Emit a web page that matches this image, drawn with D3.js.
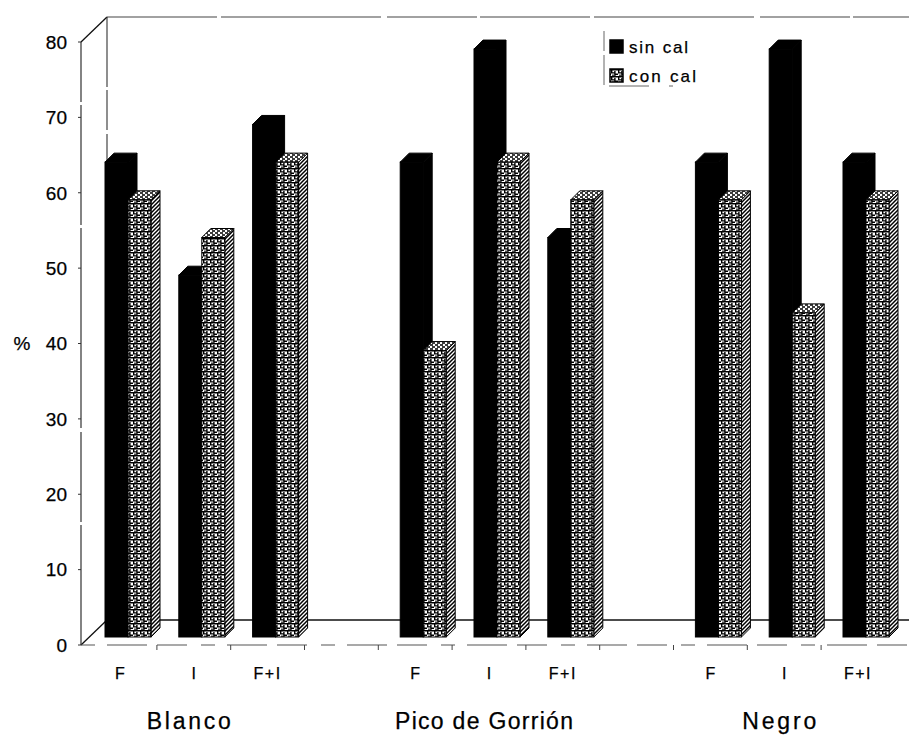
<!DOCTYPE html>
<html>
<head>
<meta charset="utf-8">
<script src="https://cdn.jsdelivr.net/npm/d3@7"></script>
<style>
  html, body { margin: 0; padding: 0; background: #fff; }
  svg { display: block; font-family: "Liberation Sans", Arial, sans-serif; }
  text { fill: #000; stroke: #000; stroke-width: 0.25px; }
</style>
</head>
<body>
<svg id="chart" width="909" height="737"></svg>
<script>
// Germination (%) by seed type and treatment, with and without lime
const groups = ["Blanco", "Pico de Gorrión", "Negro"];
const treatments = ["F", "I", "F+I"];
const seriesNames = ["sin cal", "con cal"];
const sinCal = [63, 48, 68, 63, 78, 53, 63, 78, 63];
const conCal = [58, 53, 63, 38, 63, 58, 58, 43, 58];
const yTicks = [0, 10, 20, 30, 40, 50, 60, 70, 80];

const svg = d3.select("#chart");
const W = 909;

// slot keys: three treatments per group, one empty slot between groups
const slots = [];
groups.forEach((g, gi) => {
  treatments.forEach((t, ti) => slots.push(`${gi}|${ti}`));
  if (gi < groups.length - 1) slots.push(`gap${gi}`);
});
const rows = [];
groups.forEach((g, gi) => treatments.forEach((t, ti) => {
  const i = gi * treatments.length + ti;
  rows.push({ key: `${gi}|${ti}`, group: g, treatment: t, sin: sinCal[i], con: conCal[i] });
}));

// front-plane scales
const x = d3.scalePoint().domain(slots).range([105, 843]);
const y = d3.scaleLinear().domain([0, 80]).range([645, 42]);

// 3D box geometry
const wall = { dx: 26, dy: 25 };   // full depth of the floor
const barInset = 8;                // bars sit this far behind the front edge
const barW = 23;                   // front face width of one column
const depth = { dx: 9, dy: 9 };    // column depth
const yb = v => y(v) - barInset;

// patterns
const defs = svg.append("defs");
const pFront = defs.append("pattern").attr("id", "pFront")
  .attr("patternUnits", "userSpaceOnUse").attr("width", 7).attr("height", 7);
pFront.append("rect").attr("width", 7).attr("height", 7).attr("fill", "#fff");
pFront.append("path").attr("fill", "none").attr("stroke", "#000").attr("stroke-width", 1.4)
  .attr("d", "M0,0.7H7 M0.7,0V3.5 M0,3.9H3.2 M3.9,2V7 M4.5,5.2H7 M2,5.6V7");
const pSide = defs.append("pattern").attr("id", "pSide")
  .attr("patternUnits", "userSpaceOnUse").attr("width", 4).attr("height", 4);
pSide.append("rect").attr("width", 4).attr("height", 4).attr("fill", "#fff");
pSide.append("path").attr("stroke", "#000").attr("stroke-width", 1.5)
  .attr("d", "M-1,1L1,-1 M0,4L4,0 M3,5L5,3");
const pTop = defs.append("pattern").attr("id", "pTop")
  .attr("patternUnits", "userSpaceOnUse").attr("width", 5).attr("height", 4);
pTop.append("rect").attr("width", 5).attr("height", 4).attr("fill", "#fff");
pTop.append("path").attr("stroke", "#000").attr("stroke-width", 1.3)
  .attr("d", "M0,1H3 M2,3H5");

// walls and floor
const frame = svg.append("g").attr("fill", "none");
const y0 = y(0), yTop = y(80), xL = x.range()[0] - 24;
frame.append("line").attr("x1", xL).attr("y1", y0).attr("x2", xL).attr("y2", yTop)
  .attr("stroke", "#333").attr("stroke-width", 1.2).attr("stroke-dasharray", "120 3 90 4 200 3");
frame.append("line").attr("x1", xL).attr("y1", yTop).attr("x2", xL + wall.dx).attr("y2", yTop - wall.dy)
  .attr("stroke", "#111").attr("stroke-width", 1.3);
frame.append("line").attr("x1", xL + wall.dx).attr("y1", yTop - wall.dy).attr("x2", W).attr("y2", yTop - wall.dy)
  .attr("stroke", "#444").attr("stroke-width", 1.1).attr("stroke-dasharray", "110 4 160 6 90 3");
frame.append("line").attr("x1", xL + wall.dx).attr("y1", yTop - wall.dy).attr("x2", xL + wall.dx).attr("y2", y0 - wall.dy)
  .attr("stroke", "#333").attr("stroke-width", 1.1).attr("stroke-dasharray", "70 3 40 4");
frame.append("line").attr("x1", xL).attr("y1", y0).attr("x2", xL + wall.dx).attr("y2", y0 - wall.dy)
  .attr("stroke", "#111").attr("stroke-width", 1.3);
frame.append("line").attr("x1", xL + wall.dx).attr("y1", y0 - wall.dy).attr("x2", W).attr("y2", y0 - wall.dy)
  .attr("stroke", "#111").attr("stroke-width", 1.4);
frame.append("line").attr("x1", xL).attr("y1", y0).attr("x2", W).attr("y2", y0)
  .attr("stroke", "#555").attr("stroke-width", 1.2).attr("stroke-dasharray", "14 12 40 10 30 14");

// y axis ticks and labels
const yAxis = svg.append("g");
yAxis.selectAll("line.tick").data(yTicks).join("line").attr("class", "tick")
  .attr("x1", xL - 3).attr("x2", xL).attr("y1", d => y(d)).attr("y2", d => y(d))
  .attr("stroke", "#333").attr("stroke-width", 1);
yAxis.selectAll("text").data(yTicks).join("text")
  .attr("x", xL - 14).attr("y", d => y(d)).attr("dy", "0.36em")
  .attr("text-anchor", "end").attr("font-size", 19)
  .text(d => d);
svg.append("text").attr("x", 22).attr("y", y(40)).attr("dy", "0.36em")
  .attr("text-anchor", "middle").attr("font-size", 19).text("%");

// x axis: ticks at slot boundaries, treatment and group labels
const step = x.step();
const labelX = k => x(k) + 15;
svg.append("g").selectAll("line").data(slots.slice(0, -1)).join("line")
  .attr("x1", k => labelX(k) + step / 2).attr("x2", k => labelX(k) + step / 2)
  .attr("y1", y0).attr("y2", y0 + 5).attr("stroke", "#444").attr("stroke-width", 1);
svg.append("g").selectAll("text").data(rows).join("text")
  .attr("x", d => labelX(d.key)).attr("y", 679)
  .attr("text-anchor", "middle").attr("font-size", 16).attr("letter-spacing", d => d.treatment.length > 1 ? 1.5 : 0)
  .text(d => d.treatment);
const groupW = [84, 178, 74];
svg.append("g").selectAll("text").data(groups).join("text")
  .attr("x", (g, gi) => labelX(`${gi}|1`) - 5 - groupW[gi] / 2).attr("y", 729)
  .attr("font-size", 23).attr("textLength", (g, gi) => groupW[gi]).attr("lengthAdjust", "spacing")
  .text(g => g);

// columns
function column(g, x0, v, faces) {
  const top = yb(v), bot = yb(0);
  g.append("polygon")
    .attr("points", [[x0 + barW, bot], [x0 + barW, top], [x0 + barW + depth.dx, top - depth.dy], [x0 + barW + depth.dx, bot - depth.dy]].join(" "))
    .attr("fill", faces.side).attr("stroke", "#000").attr("stroke-width", 1);
  g.append("polygon")
    .attr("points", [[x0, top], [x0 + barW, top], [x0 + barW + depth.dx, top - depth.dy], [x0 + depth.dx, top - depth.dy]].join(" "))
    .attr("fill", faces.top).attr("stroke", "#000").attr("stroke-width", 1);
  g.append("rect").attr("x", x0).attr("y", top).attr("width", barW).attr("height", bot - top)
    .attr("fill", faces.front).attr("stroke", "#000").attr("stroke-width", 1);
}
const black = { front: "#000", side: "#000", top: "#000" };
const patterned = { front: "url(#pFront)", side: "url(#pSide)", top: "url(#pTop)" };
const bars = svg.append("g");
rows.forEach(d => {
  const g = bars.append("g");
  column(g, x(d.key), d.sin, black);
  column(g, x(d.key) + barW, d.con, patterned);
});

// legend
const legend = svg.append("g").attr("transform", "translate(604,31)");
legend.append("path").attr("d", "M0,0V55H99").attr("fill", "none")
  .attr("stroke", "#666").attr("stroke-width", 1).attr("stroke-dasharray", "20 4 30 6 40");
const items = [{ name: seriesNames[0], fill: "#000" }, { name: seriesNames[1], fill: "url(#pFront)" }];
const li = legend.selectAll("g.item").data(items).join("g").attr("class", "item")
  .attr("transform", (d, i) => `translate(0,${16 + i * 29})`);
li.append("rect").attr("x", 6).attr("y", -7).attr("width", 13).attr("height", 13)
  .attr("fill", d => d.fill).attr("stroke", "#000").attr("stroke-width", 1.5);
li.append("text").attr("x", 25).attr("y", 0).attr("dy", "0.36em").attr("font-size", 17)
  .attr("textLength", (d, i) => i === 0 ? 59 : 67).attr("lengthAdjust", "spacing")
  .text(d => d.name);
</script>
</body>
</html>
